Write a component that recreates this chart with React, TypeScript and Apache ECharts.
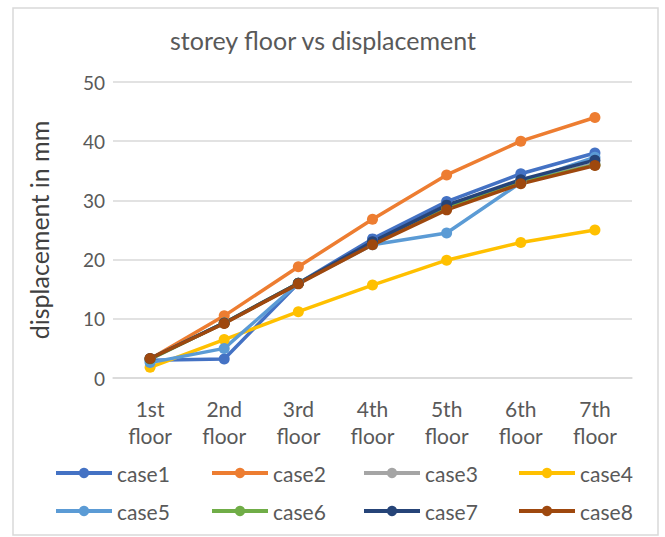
import React, { useEffect, useRef } from "react";
import * as echarts from "echarts";

const categories = ["1st\nfloor", "2nd\nfloor", "3rd\nfloor", "4th\nfloor", "5th\nfloor", "6th\nfloor", "7th\nfloor"];
const seriesNames = ["case1", "case2", "case3", "case4", "case5", "case6", "case7", "case8"];
const case1 = [3.0, 3.2, 16.0, 23.5, 29.8, 34.5, 38.0];
const case2 = [3.2, 10.5, 18.8, 26.8, 34.3, 40.0, 44.0];
const case3 = [3.2, 9.3, 16.0, 22.8, 28.8, 33.2, 36.2];
const case4 = [1.8, 6.5, 11.2, 15.7, 19.9, 22.9, 25.0];
const case5 = [2.6, 5.0, 16.0, 22.5, 24.5, 33.0, 37.3];
const case6 = [3.2, 9.3, 16.0, 22.8, 28.8, 33.0, 36.0];
const case7 = [3.3, 9.3, 16.0, 23.0, 29.2, 33.5, 36.8];
const case8 = [3.3, 9.2, 15.9, 22.5, 28.4, 32.8, 35.9];
const allData = [case1, case2, case3, case4, case5, case6, case7, case8];
const colors = ["#4472C4", "#ED7D31", "#A5A5A5", "#FFC000", "#5B9BD5", "#70AD47", "#264478", "#9E480E"];

const FONT = "Lato";
const TEXT = "#595959";
const legendLefts = [49, 205, 357, 512];
const legendTops = [457, 495];

export default function App() {
  const ref = useRef<HTMLDivElement>(null);
  useEffect(() => {
    if (!ref.current) return;
    const chart = echarts.init(ref.current, null, { renderer: "svg" });
    const legends = seriesNames.map((name, i) => ({
      orient: "horizontal",
      left: legendLefts[i % 4],
      top: legendTops[Math.floor(i / 4)],
      itemWidth: 56,
      itemHeight: 13,
      itemGap: 0,
      lineStyle: { width: 4 },
      data: [name],
      textStyle: { fontFamily: FONT, fontSize: 21, lineHeight: 22, color: TEXT },
    }));
    chart.setOption({
      animation: false,
      backgroundColor: "#ffffff",
      color: colors,
      title: {
        text: "storey floor vs displacement",
        left: 165,
        top: 22,
        textStyle: { fontFamily: FONT, fontSize: 25, fontWeight: "normal", color: TEXT },
      },
      graphic: [
        {
          type: "rect",
          shape: { x: 13, y: 8, width: 645, height: 527 },
          style: { fill: "none", stroke: "#d9d9d9", lineWidth: 1.5 },
          silent: true,
          z: -1,
        },
      ],
      legend: legends,
      grid: { left: 113, right: 33, top: 82, bottom: 159 },
      xAxis: {
        type: "category",
        data: categories,
        boundaryGap: true,
        axisLine: { show: true, lineStyle: { color: "#d9d9d9", width: 1.5 } },
        axisTick: { show: false },
        axisLabel: { fontFamily: FONT, fontSize: 21, color: TEXT, lineHeight: 27, margin: 17 },
      },
      yAxis: {
        type: "value",
        min: 0,
        max: 50,
        interval: 10,
        name: "displacement in mm",
        nameLocation: "middle",
        nameGap: 62,
        nameRotate: 90,
        nameTextStyle: { fontFamily: FONT, fontSize: 25, color: "#404040" },
        axisLine: { show: false },
        axisTick: { show: false },
        axisLabel: { fontFamily: FONT, fontSize: 19, color: TEXT, margin: 8 },
        splitLine: { lineStyle: { color: "#d9d9d9", width: 1.5 } },
      },
      series: seriesNames.map((name, i) => ({
        name,
        type: "line",
        data: allData[i],
        symbol: "circle",
        symbolSize: 11,
        lineStyle: { width: 3.5, color: colors[i] },
        itemStyle: { color: colors[i] },
      })),
    });
    return () => chart.dispose();
  }, []);
  return <div ref={ref} style={{ position: "fixed", left: 0, top: 0, width: 665, height: 537 }} />;
}
